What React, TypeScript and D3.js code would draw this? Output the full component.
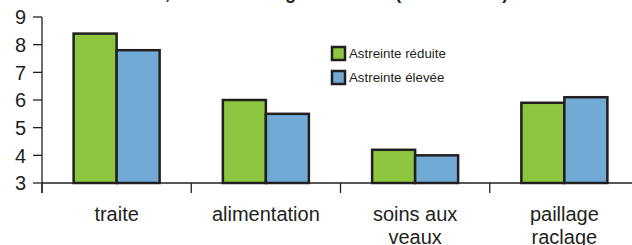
import React from "react";
import * as d3 from "d3";

const categories: string[][] = [["traite"], ["alimentation"], ["soins aux", "veaux"], ["paillage", "raclage"]];
const categoryKeys = ["traite", "alimentation", "soins", "paillage"];
const series = ["Astreinte réduite", "Astreinte élevée"];
const reduite = [8.4, 6.0, 4.2, 5.9];
const elevee = [7.8, 5.5, 4.0, 6.1];
const yTicks = [3, 4, 5, 6, 7, 8, 9];
const title = "Durée des tâches, selon la charge de travail (heures/UTH)";
const colors = ["#8dc63f", "#72aad6"];

export default function App() {
  const W = 632, H = 245;
  const y = d3.scaleLinear().domain([3, 9]).range([183, 17]);
  const x0 = d3.scaleBand<string>().domain(categoryKeys).range([42, 639]).paddingInner(0).paddingOuter(0);
  const x1 = d3.scaleBand<string>().domain(series).range([0, x0.bandwidth()]).paddingInner(0).paddingOuter(0.735);
  const data = [reduite, elevee];
  const ink = "#231f20";
  const font = "Arial, 'Liberation Sans', sans-serif";
  return (
    <svg width={W} height={H} style={{ position: "absolute", left: 0, top: 0, background: "#fff" }} fontFamily={font}>
      <text x={16} y={-1} fontSize={18} fontWeight="bold" fill={ink}>{title}</text>
      {data.map((vals, si) =>
        vals.map((v, ci) => (
          <rect
            key={`${si}-${ci}`}
            x={(x0(categoryKeys[ci]) as number) + (x1(series[si]) as number)}
            y={y(v)}
            width={x1.bandwidth()}
            height={y(3) - y(v)}
            fill={colors[si]}
            stroke={ink}
            strokeWidth={2.5}
          />
        ))
      )}
      {/* y axis */}
      <line x1={42} x2={42} y1={17} y2={193} stroke={ink} strokeWidth={1.3} />
      {yTicks.map((t) => (
        <g key={t}>
          <line x1={33} x2={42} y1={y(t)} y2={y(t)} stroke={ink} strokeWidth={1.3} />
          <text x={26} y={y(t)} dy="0.36em" textAnchor="end" fontSize={20} fill={ink}>{t}</text>
        </g>
      ))}
      {/* x axis */}
      <line x1={42} x2={W} y1={183} y2={183} stroke={ink} strokeWidth={1.5} />
      {categoryKeys.map((c) => (
        <line key={c} x1={x0(c)} x2={x0(c)} y1={183} y2={193} stroke={ink} strokeWidth={1.3} />
      ))}
      {categories.map((lines, ci) => (
        <text key={ci} x={(x0(categoryKeys[ci]) as number) + x0.bandwidth() / 2} y={221} textAnchor="middle" fontSize={20} fill={ink}>
          {lines.map((l, li) => (
            <tspan key={li} x={(x0(categoryKeys[ci]) as number) + x0.bandwidth() / 2} dy={li === 0 ? 0 : 23}>{l}</tspan>
          ))}
        </text>
      ))}
      {/* legend */}
      {series.map((s, si) => (
        <g key={s} transform={`translate(332, ${47 + si * 24})`}>
          <rect x={0} y={0} width={13} height={13} fill={colors[si]} stroke={ink} strokeWidth={2.5} />
          <text x={17} y={11} fontSize={13.3} fill={ink}>{s}</text>
        </g>
      ))}
    </svg>
  );
}
